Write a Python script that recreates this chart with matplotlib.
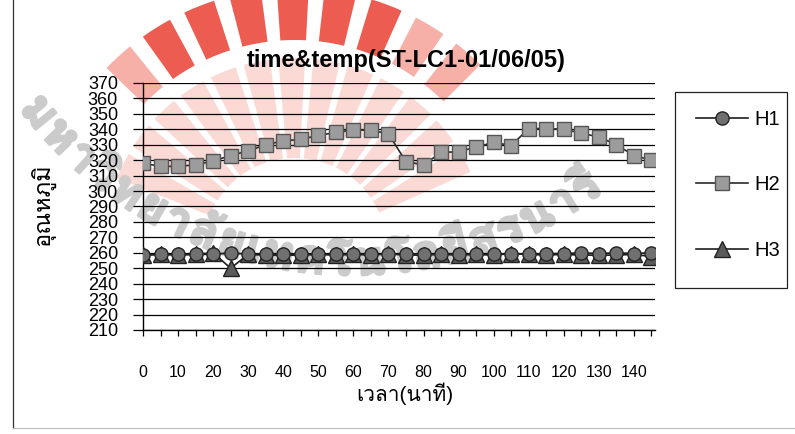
import matplotlib
matplotlib.use("Agg")
import numpy as np
import matplotlib.pyplot as plt
import matplotlib.patheffects as pe
from matplotlib.patches import Wedge, Rectangle
from matplotlib.lines import Line2D
from matplotlib.transforms import Affine2D

# temperature log, one reading every 5 minutes
minutes = list(range(0, 150, 5))
h1 = [258.5, 259, 259, 259, 259, 260, 259, 259, 259, 259, 259, 259, 259.5, 259, 259,
      259, 259.5, 259, 259.5, 259, 259, 259.5, 259, 259.5, 259.5, 260, 259.5, 260, 259.5, 260]
h2 = [318, 316, 316, 317, 319.5, 323, 326, 330, 332.5, 333.5, 336, 338, 339.5, 339.5, 337,
      319, 317, 325, 325.5, 328.5, 331.5, 329.5, 340.5, 340.5, 340, 337.5, 335, 330, 323, 320]
h3 = [258.5, 259, 258.5, 259, 260, 250, 259, 258.5, 258.5, 258.5, 259, 258.5, 259, 258.5, 259.5,
      258.5, 258.5, 259, 258.5, 259, 258.5, 259.5, 259, 258.5, 259, 258.5, 258.5, 258.5, 259, 257.5]
series_names = ["H1", "H2", "H3"]
y_ticks = list(range(210, 380, 10))
x_labels = [str(m) if m % 10 == 0 else "" for m in minutes]

title = "time&temp(ST-LC1-01/06/05)"
x_title = "เวลา(นาที)"
y_title = "อุณหภูมิ"
stamp = "มหาวิทยาลัยเทคโนโลยีสุรนารี"

plt.rcParams["font.family"] = ["Liberation Sans", "Loma", "DejaVu Sans"]

W, H = 795, 434
fig = plt.figure(figsize=(W / 100, H / 100), dpi=100)
# pixel coordinates, origin bottom-left
pix = Affine2D().scale(1 / 100) + fig.dpi_scale_trans


def up(y):
    return H - y


# seal in the background: rays and ring text
sun = (295, up(250))
for a in np.arange(24, 156, 10.5):
    fig.add_artist(Wedge(sun, 192, a, a + 8, width=100, transform=pix,
                         facecolor="#fbdad5", edgecolor="none", zorder=-3))
for a in np.arange(44, 137, 10.5):
    tone = "#ec5c51" if 62 < a < 118 else "#f6b0a8"
    fig.add_artist(Wedge(sun, 262, a + 1, a + 8, width=52, transform=pix,
                         facecolor=tone, edgecolor="none", zorder=-3))

marks = "\u0e31\u0e34\u0e35\u0e36\u0e37\u0e38\u0e39\u0e3a\u0e47\u0e48\u0e49\u0e4a\u0e4b\u0e4c"
clusters = []
for ch in stamp:
    if ch in marks and clusters:
        clusters[-1] += ch
    else:
        clusters.append(ch)

stamp_font = dict(fontsize=34, fontweight="bold", family=["Loma", "DejaVu Sans"])
renderer = fig.canvas.get_renderer()
widths = []
for c in clusters:
    t = fig.text(0, 0, c, **stamp_font)
    widths.append(t.get_window_extent(renderer).width)
    t.remove()

ring_c = (353, up(-143))
ring_r = 418
th0, th1 = np.radians(-53), np.radians(32)
gap = max(2.0, (ring_r * (th1 - th0) - sum(widths)) / (len(clusters) - 1))
s = 0.0
for c, w in zip(clusters, widths):
    th = th0 + (s + w / 2) / ring_r
    x = ring_c[0] + ring_r * np.sin(th)
    y = ring_c[1] - ring_r * np.cos(th)
    fig.text(x, y, c, transform=pix, color="#cbcbcb",
             rotation=np.degrees(th), rotation_mode="anchor",
             ha="center", va="baseline", zorder=-2,
             path_effects=[pe.withStroke(linewidth=2, foreground="#cbcbcb")],
             **stamp_font)
    s += w + gap

# chart area border
fig.add_artist(Line2D([13, 13], [up(428), H], transform=pix, color="#333333", lw=0.9))
fig.add_artist(Line2D([13, W], [up(428), up(428)], transform=pix, color="#bbbbbb", lw=0.8))

ax = fig.add_axes([143 / W, 1 - 330 / H, 512 / W, 247 / H])
ax.set_facecolor("none")

l1, = ax.plot(minutes, h1, color="#1e1e1e", lw=1.2, marker="o", ms=9.5,
              mfc="#707070", mec="#222222", mew=1, zorder=4)
l2, = ax.plot(minutes, h2, color="#2a2a2a", lw=1.2, marker="s", ms=9.5,
              mfc="#9c9c9c", mec="#555555", mew=1, zorder=3)
l3, = ax.plot(minutes, h3, color="#1e1e1e", lw=1.2, marker="^", ms=11,
              mfc="#5a5a5a", mec="#222222", mew=1, zorder=3)

ax.set_xlim(0, 146)
ax.set_ylim(210, 370)
ax.set_yticks(y_ticks)
ax.set_xticks(minutes)
ax.set_xticklabels(x_labels)
ax.grid(axis="y", color="black", lw=0.9)
ax.set_axisbelow(True)
for side in ("top", "right"):
    ax.spines[side].set_visible(False)
ax.spines["left"].set_linewidth(1)
ax.spines["bottom"].set_linewidth(1)
ax.tick_params(axis="y", direction="out", length=7, width=0.9, pad=11, labelsize=13)
ax.tick_params(axis="x", direction="out", length=4, width=0.9, pad=21, labelsize=11.5)

fig.text(406 / W, 1 - 60 / H, title, ha="center", va="center", fontsize=17,
         fontweight="bold")
fig.text(405 / W, 1 - 394 / H, x_title, ha="center", va="center", fontsize=15)
fig.text(43 / W, 1 - 205 / H, y_title, ha="center", va="center", fontsize=17,
         rotation=90)

# legend with its own box
fig.add_artist(Rectangle((675, up(288)), 112, 196, transform=pix, fill=False,
                         edgecolor="#222222", lw=0.9))
ax.legend([l1, l2, l3], series_names, loc="center left",
          bbox_to_anchor=(686 / W, 1 - 185 / H), bbox_transform=fig.transFigure,
          frameon=False, fontsize=14.5, handlelength=2.6, handletextpad=0.3,
          labelspacing=2.3, borderpad=0)

fig.savefig("out.png", dpi=100)
